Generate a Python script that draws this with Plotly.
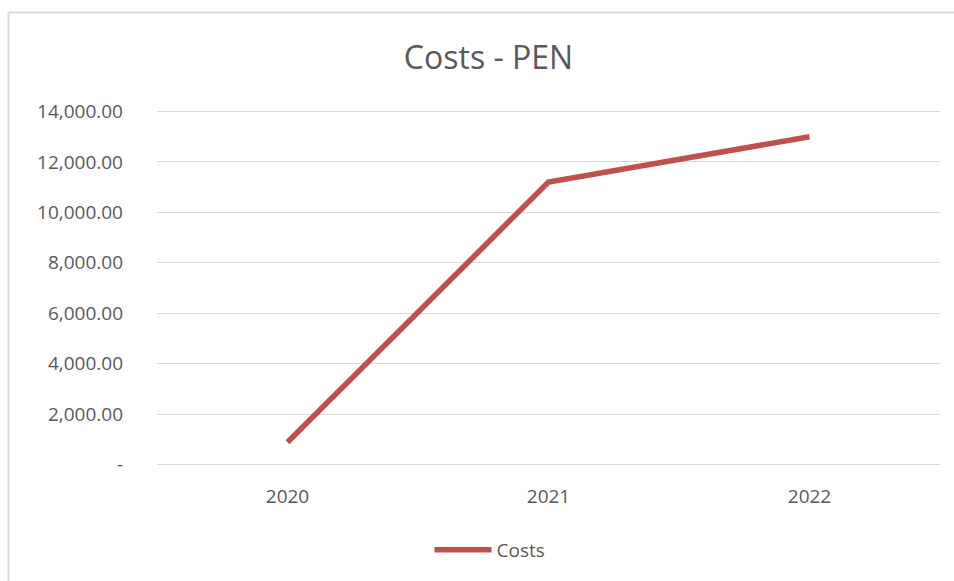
import plotly.graph_objects as go

# Annual costs in PEN
years = ["2020", "2021", "2022"]
costs = [880, 11200, 13000]

# Value-axis ticks
y_tickvals = [0, 2000, 4000, 6000, 8000, 10000, 12000, 14000]
y_ticktext = ["-" if v == 0 else f"{v:,.2f}" for v in y_tickvals]

W, H = 954, 581
L, R, T, B = 157, 14, 110, 115
plot_w = W - L - R
plot_h = H - T - B


def px_to_paper_x(px):
    return (px - L) / plot_w


def px_to_paper_y(py):
    return (H - B - py) / plot_h


TEXT = "#595959"
GRID = "#D9D9D9"
LINE = "#C0504D"

fig = go.Figure()
fig.add_trace(go.Scatter(
    x=years,
    y=costs,
    mode="lines",
    name="Costs",
    line=dict(color=LINE, width=5.5),
))

# Chart area border (top and left edges visible)
border_left = px_to_paper_x(8.5)
border_top = px_to_paper_y(12.5)
fig.add_shape(type="line", xref="paper", yref="paper",
              x0=border_left, x1=1.1, y0=border_top, y1=border_top,
              line=dict(color=GRID, width=2), layer="below")
fig.add_shape(type="line", xref="paper", yref="paper",
              x0=border_left, x1=border_left, y0=border_top, y1=-0.5,
              line=dict(color=GRID, width=2), layer="below")

fig.update_layout(
    width=W,
    height=H,
    margin=dict(l=L, r=R, t=T, b=B),
    paper_bgcolor="white",
    plot_bgcolor="white",
    font=dict(family="Open Sans", color=TEXT, size=19),
    title=dict(
        text="Costs - PEN",
        font=dict(family="Open Sans", size=32, color=TEXT),
        x=488.5 / W,
        xanchor="center",
        xref="container",
        y=1 - 58 / H,
        yanchor="middle",
        yref="container",
    ),
    showlegend=True,
    legend=dict(
        orientation="h",
        x=px_to_paper_x(490),
        xanchor="center",
        y=px_to_paper_y(550),
        yanchor="middle",
        font=dict(size=19, color=TEXT),
        itemwidth=57,
        bgcolor="rgba(0,0,0,0)",
    ),
    xaxis=dict(
        type="category",
        range=[-0.5, 2.5],
        showgrid=False,
        showline=False,
        zeroline=False,
        ticks="",
        ticklabelstandoff=17,
        tickfont=dict(size=19, color=TEXT),
    ),
    yaxis=dict(
        range=[-60, 14060],
        tickvals=y_tickvals,
        ticktext=y_ticktext,
        showgrid=True,
        gridcolor=GRID,
        gridwidth=1,
        zeroline=False,
        showline=False,
        ticks="",
        ticklabelstandoff=33,
        tickfont=dict(size=19, color=TEXT),
    ),
)

fig.write_html("out.html")
